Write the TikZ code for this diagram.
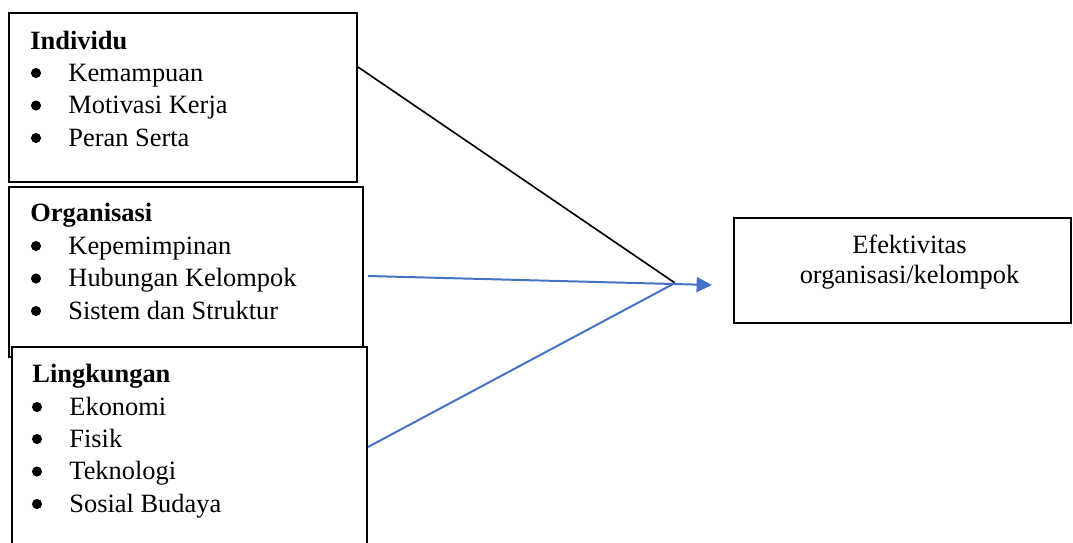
\documentclass[tikz,border=0pt]{standalone}
\usepackage{fontspec}
\setmainfont{Liberation Serif}
\usetikzlibrary{arrows.meta}
\definecolor{linkblue}{RGB}{68,114,196}
\begin{document}
\begin{tikzpicture}[x=0.4545pt,y=-0.4545pt,
  frame/.style={draw=black,line width=0.95pt,fill=white,inner sep=0pt},
  txt/.style={anchor=base west,inner sep=0pt,font=\fontsize{12}{14}\selectfont},
  head/.style={txt,font=\fontsize{12}{14}\selectfont\bfseries},
  ctr/.style={anchor=base,inner sep=0pt,font=\fontsize{12}{14}\selectfont},
  dot/.style={circle,fill=black,inner sep=0pt,minimum size=4.6pt},
  blackline/.style={draw=black,line width=0.75pt},
  blueline/.style={draw=linkblue,line width=0.9pt}]
\useasboundingbox (0,0) rectangle (1073,542);

% factor boxes
\node[frame,minimum width=348*0.4545pt,minimum height=169*0.4545pt] (ind) at (183,97.5) {};
\node[frame,minimum width=354*0.4545pt,minimum height=170*0.4545pt] (org) at (186,272) {};
\node[frame,minimum width=355*0.4545pt,minimum height=218*0.4545pt] (env) at (189.5,456) {};
\node[frame,minimum width=337*0.4545pt,minimum height=105*0.4545pt] (eff) at (902.5,270.5) {};

% Individu
\node[head] (indT) at (30,49) {Individu};
\node[txt] (ind1) at (68,81) {Kemampuan};
\node[txt] (ind2) at (68,113.5) {Motivasi Kerja};
\node[txt] (ind3) at (68,146) {Peran Serta};
\node[dot] (indB1) at (36,73) {};
\node[dot] (indB2) at (36,105.5) {};
\node[dot] (indB3) at (36,138) {};

% Organisasi
\node[head] (orgT) at (30,221.7) {Organisasi};
\node[txt] (org1) at (68,254) {Kepemimpinan};
\node[txt] (org2) at (68,286.5) {Hubungan Kelompok};
\node[txt] (org3) at (68,319) {Sistem dan Struktur};
\node[dot] (orgB1) at (36,246) {};
\node[dot] (orgB2) at (36,278.5) {};
\node[dot] (orgB3) at (36,311) {};

% Lingkungan
\node[head] (envT) at (32,382.5) {Lingkungan};
\node[txt] (env1) at (69,415) {Ekonomi};
\node[txt] (env2) at (69,447) {Fisik};
\node[txt] (env3) at (69,479.5) {Teknologi};
\node[txt] (env4) at (69,512) {Sosial Budaya};
\node[dot] (envB1) at (37,407) {};
\node[dot] (envB2) at (37,439) {};
\node[dot] (envB3) at (37,471.5) {};
\node[dot] (envB4) at (37,504) {};

% outcome
\node[ctr] (eff1) at (909.5,253) {Efektivitas};
\node[ctr] (eff2) at (909.5,283) {organisasi/kelompok};

% connectors
\coordinate (indOut) at (358,67);
\coordinate (orgOut) at (368,276);
\coordinate (envOut) at (368,447);
\coordinate (join) at (675,283);
\coordinate (tip) at (712,285);

\draw[blackline] (indOut) -- (join);
\draw[blueline] (envOut) -- (join);
\draw[blueline,-{Triangle[length=7pt,width=6.8pt]}] (orgOut) -- (tip);
\end{tikzpicture}
\end{document}
